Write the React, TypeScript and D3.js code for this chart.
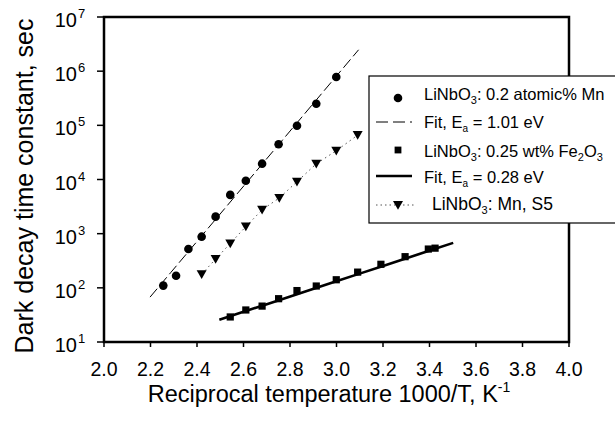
import React from "react";
import * as d3 from "d3";

// Reciprocal temperature (1000/T, K^-1) and dark decay time constants (s)
const mnX = [2.255, 2.31, 2.363, 2.42, 2.48, 2.543, 2.61, 2.68, 2.751, 2.83, 2.913, 2.999];
const mnTau = [110, 167, 520, 880, 2060, 5200, 9500, 19600, 44700, 98000, 250000, 780000];

const feX = [2.543, 2.61, 2.68, 2.751, 2.83, 2.913, 2.999, 3.091, 3.191, 3.295, 3.395, 3.424];
const feTau = [29, 39, 46, 63, 89, 108, 141, 195, 272, 376, 520, 540];

const s5X = [2.42, 2.48, 2.543, 2.61, 2.68, 2.754, 2.83, 2.913, 2.999, 3.091];
const s5Tau = [178, 340, 660, 1350, 2750, 4570, 9100, 19500, 34000, 66000];

// Arrhenius fits: tau = tau0 * exp(Ea / kT)
const BOLTZMANN_EV = 8.617e-5;
const fitMnEa = 1.01;
const fitMnLogTau0 = -9.36;
const fitMnRange = [2.198, 3.095];
const fitFeEa = 0.28;
const fitFeLogTau0 = -2.112;
const fitFeRange = [2.496, 3.502];

const xTicks = [2.0, 2.2, 2.4, 2.6, 2.8, 3.0, 3.2, 3.4, 3.6, 3.8, 4.0];
const yExponents = [1, 2, 3, 4, 5, 6, 7];

const W = 615;
const H = 426;
const plot = { left: 104, right: 569, top: 17, bottom: 342 };
const FONT = "'Liberation Sans', Arial, Helvetica, sans-serif";

const x = d3.scaleLinear().domain([2, 4]).range([plot.left, plot.right]);
const y = d3.scaleLog().domain([10, 1e7]).range([plot.bottom, plot.top]);

function arrhenius(ea: number, logTau0: number, range: number[]): [number, number][] {
  const xs = d3.range(0, 11).map((i) => range[0] + ((range[1] - range[0]) * i) / 10);
  return xs.map((v) => [v, Math.pow(10, logTau0) * Math.exp((ea * v) / (BOLTZMANN_EV * 1000))]);
}

const line = d3
  .line<[number, number]>()
  .x((d) => x(d[0]))
  .y((d) => y(d[1]));

function Triangle({ cx, cy, s = 5 }: { cx: number; cy: number; s?: number }) {
  const p = `${cx - s},${cy - s * 0.8} ${cx + s},${cy - s * 0.8} ${cx},${cy + s * 0.95}`;
  return <polygon points={p} fill="#000" />;
}

export default function App() {
  const fitMn = arrhenius(fitMnEa, fitMnLogTau0, fitMnRange);
  const fitFe = arrhenius(fitFeEa, fitFeLogTau0, fitFeRange);
  const s5Line: [number, number][] = s5X.map((v, i) => [v, s5Tau[i]]);

  const lgX = 369;
  const lgTop = 76;
  const rows = [98, 122, 150, 176, 205];
  const textX = 424;
  const lgFont = 16.5;

  return (
    <svg
      width={W}
      height={H}
      style={{ position: "absolute", left: 0, top: 0, background: "#fff" }}
      fontFamily={FONT}
    >
      <rect x={0} y={0} width={W} height={H} fill="#fff" />

      {/* axis ticks */}
      {yExponents.map((e) => (
        <line key={"yt" + e} x1={plot.left - 7} x2={plot.left} y1={y(Math.pow(10, e))} y2={y(Math.pow(10, e))} stroke="#000" strokeWidth={1.5} />
      ))}
      {xTicks.map((t) => (
        <line key={"xt" + t} x1={x(t)} x2={x(t)} y1={plot.bottom} y2={plot.bottom + 5} stroke="#000" strokeWidth={1.5} />
      ))}

      {/* fit lines */}
      <path d={line(fitMn) || ""} fill="none" stroke="#000" strokeWidth={1} strokeDasharray="11,4" />
      <path d={line(fitFe) || ""} fill="none" stroke="#000" strokeWidth={2.6} />
      <path d={line(s5Line) || ""} fill="none" stroke="#555" strokeWidth={1} strokeDasharray="1.5,3.5" />

      {/* data markers */}
      {mnX.map((v, i) => (
        <circle key={"mn" + i} cx={x(v)} cy={y(mnTau[i])} r={4.3} fill="#000" />
      ))}
      {feX.map((v, i) => (
        <rect key={"fe" + i} x={x(v) - 3.6} y={y(feTau[i]) - 3.6} width={7.2} height={7.2} fill="#000" />
      ))}
      {s5X.map((v, i) => (
        <Triangle key={"s5" + i} cx={x(v)} cy={y(s5Tau[i])} />
      ))}

      {/* frame */}
      <rect
        x={plot.left}
        y={plot.top}
        width={plot.right - plot.left}
        height={plot.bottom - plot.top}
        fill="none"
        stroke="#000"
        strokeWidth={2.5}
      />

      {/* y tick labels */}
      {yExponents.map((e) => (
        <text key={"yl" + e} x={77} y={y(Math.pow(10, e)) + 10} fontSize={20} textAnchor="end" fill="#000">
          10
        </text>
      ))}
      {yExponents.map((e) => (
        <text key={"ys" + e} x={78} y={y(Math.pow(10, e)) + 1} fontSize={13} fill="#000">
          {e}
        </text>
      ))}

      {/* x tick labels */}
      {xTicks.map((t) => (
        <text key={"xl" + t} x={x(t)} y={376} fontSize={19.5} textAnchor="middle" fill="#000">
          {t.toFixed(1)}
        </text>
      ))}

      {/* axis titles */}
      <text x={329} y={402} fontSize={23.5} textAnchor="middle" fill="#000">
        Reciprocal temperature 1000/T, K
        <tspan fontSize={14} dy={-10}>-1</tspan>
      </text>
      <text
        transform={`translate(33,186) rotate(-90)`}
        fontSize={25}
        textAnchor="middle"
        fill="#000"
      >
        Dark decay time constant, sec
      </text>

      {/* legend */}
      <rect x={lgX} y={lgTop} width={W - lgX + 10} height={147} fill="#fff" stroke="#000" strokeWidth={1.2} />
      <circle cx={398} cy={rows[0]} r={4.3} fill="#000" />
      <line x1={376} x2={412} y1={rows[1]} y2={rows[1]} stroke="#000" strokeWidth={1} strokeDasharray="12,5" />
      <rect x={398 - 3.4} y={rows[2] - 3.4} width={6.8} height={6.8} fill="#000" />
      <line x1={376} x2={412} y1={rows[3]} y2={rows[3]} stroke="#000" strokeWidth={2.6} />
      <line x1={376} x2={416} y1={rows[4]} y2={rows[4]} stroke="#555" strokeWidth={1} strokeDasharray="1.5,3" />
      <Triangle cx={398} cy={rows[4]} />

      <text x={textX} y={100} fontSize={lgFont} fill="#000">
        LiNbO<tspan fontSize={11} dy={4}>3</tspan>
        <tspan dy={-4}>: 0.2 atomic% Mn</tspan>
      </text>
      <text x={textX} y={128} fontSize={lgFont} fill="#000">
        Fit, E<tspan fontSize={10} dy={4}>a</tspan>
        <tspan dy={-4}> = 1.01 eV</tspan>
      </text>
      <text x={textX} y={157} fontSize={lgFont} fill="#000">
        LiNbO<tspan fontSize={11} dy={4}>3</tspan>
        <tspan dy={-4}>: 0.25 wt% Fe</tspan>
        <tspan fontSize={11} dy={4}>2</tspan>
        <tspan dy={-4}>O</tspan>
        <tspan fontSize={11} dy={4}>3</tspan>
      </text>
      <text x={textX} y={183} fontSize={lgFont} fill="#000">
        Fit, E<tspan fontSize={10} dy={4}>a</tspan>
        <tspan dy={-4}> = 0.28 eV</tspan>
      </text>
      <text x={432} y={210} fontSize={lgFont + 1} fill="#000">
        LiNbO<tspan fontSize={11} dy={4}>3</tspan>
        <tspan dy={-4}>: Mn, S5</tspan>
      </text>
    </svg>
  );
}
